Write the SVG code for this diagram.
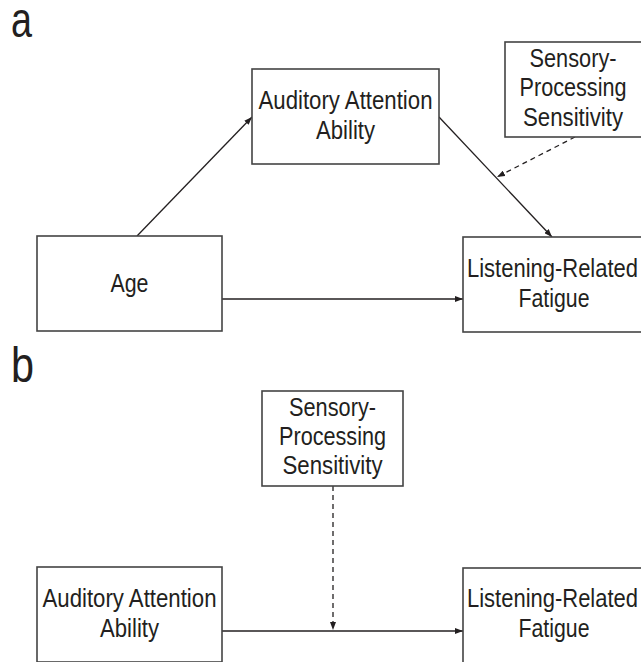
<svg xmlns="http://www.w3.org/2000/svg" width="641" height="662" viewBox="0 0 641 662">
<style>
.box{fill:#fff;stroke:#444;stroke-width:1.6}
.t{font-family:"Liberation Sans",Arial,sans-serif;font-size:25px;fill:#231f20;text-anchor:middle}
.lbl{font-family:"Liberation Sans",Arial,sans-serif;font-size:50px;fill:#231f20}
.ln{stroke:#231f20;stroke-width:1.3;fill:none}
.ds{stroke:#231f20;stroke-width:1.3;fill:none;stroke-dasharray:5 4}
</style>
<defs>
<marker id="ah" viewBox="0 0 8 6" refX="8" refY="3" markerWidth="8" markerHeight="6" markerUnits="userSpaceOnUse" orient="auto">
<path d="M0,0 L8,3 L0,6 z" fill="#231f20"/>
</marker>
</defs>
<rect width="641" height="662" fill="#fff"/>
<text class="lbl" x="11" y="37" textLength="21" lengthAdjust="spacingAndGlyphs">a</text>
<text class="lbl" x="11" y="382" textLength="23" lengthAdjust="spacingAndGlyphs">b</text>

<g id="connectors">
<line class="ln" x1="137" y1="236" x2="252" y2="117" marker-end="url(#ah)"/>
<line class="ln" x1="439" y1="117" x2="552" y2="237" marker-end="url(#ah)"/>
<line class="ln" x1="222" y1="299" x2="463" y2="299" marker-end="url(#ah)"/>
<line class="ds" x1="575" y1="137" x2="497" y2="177" marker-end="url(#ah)"/>
<line class="ln" x1="222" y1="631" x2="463" y2="631" marker-end="url(#ah)"/>
<line class="ds" x1="333" y1="486" x2="333" y2="630" marker-end="url(#ah)"/>
</g>

<g id="a-aaa">
<rect class="box" x="252" y="69" width="187" height="95"/>
<text class="t" x="345.5" y="109" textLength="174" lengthAdjust="spacingAndGlyphs">Auditory Attention</text>
<text class="t" x="345.5" y="139" textLength="59" lengthAdjust="spacingAndGlyphs">Ability</text>
</g>
<g id="a-sps">
<rect class="box" x="505" y="42" width="141" height="95"/>
<text class="t" x="573" y="67" textLength="87" lengthAdjust="spacingAndGlyphs">Sensory-</text>
<text class="t" x="573" y="96" textLength="107" lengthAdjust="spacingAndGlyphs">Processing</text>
<text class="t" x="573" y="126" textLength="100" lengthAdjust="spacingAndGlyphs">Sensitivity</text>
</g>
<g id="a-age">
<rect class="box" x="37" y="236" width="185" height="95"/>
<text class="t" x="129.5" y="292" textLength="38" lengthAdjust="spacingAndGlyphs">Age</text>
</g>
<g id="a-lrf">
<rect class="box" x="463" y="237" width="185" height="95"/>
<text class="t" x="552.5" y="277" textLength="171" lengthAdjust="spacingAndGlyphs">Listening-Related</text>
<text class="t" x="554" y="307" textLength="71" lengthAdjust="spacingAndGlyphs">Fatigue</text>
</g>

<g id="b-sps">
<rect class="box" x="262" y="391" width="141" height="95"/>
<text class="t" x="332.5" y="416" textLength="87" lengthAdjust="spacingAndGlyphs">Sensory-</text>
<text class="t" x="332.5" y="445" textLength="107" lengthAdjust="spacingAndGlyphs">Processing</text>
<text class="t" x="332.5" y="474" textLength="100" lengthAdjust="spacingAndGlyphs">Sensitivity</text>
</g>
<g id="b-aaa">
<rect class="box" x="37" y="567" width="185" height="95"/>
<text class="t" x="129.5" y="607" textLength="174" lengthAdjust="spacingAndGlyphs">Auditory Attention</text>
<text class="t" x="129.5" y="637" textLength="59" lengthAdjust="spacingAndGlyphs">Ability</text>
</g>
<g id="b-lrf">
<rect class="box" x="463" y="568" width="185" height="95"/>
<text class="t" x="552.5" y="607" textLength="171" lengthAdjust="spacingAndGlyphs">Listening-Related</text>
<text class="t" x="554" y="637" textLength="71" lengthAdjust="spacingAndGlyphs">Fatigue</text>
</g>
</svg>
